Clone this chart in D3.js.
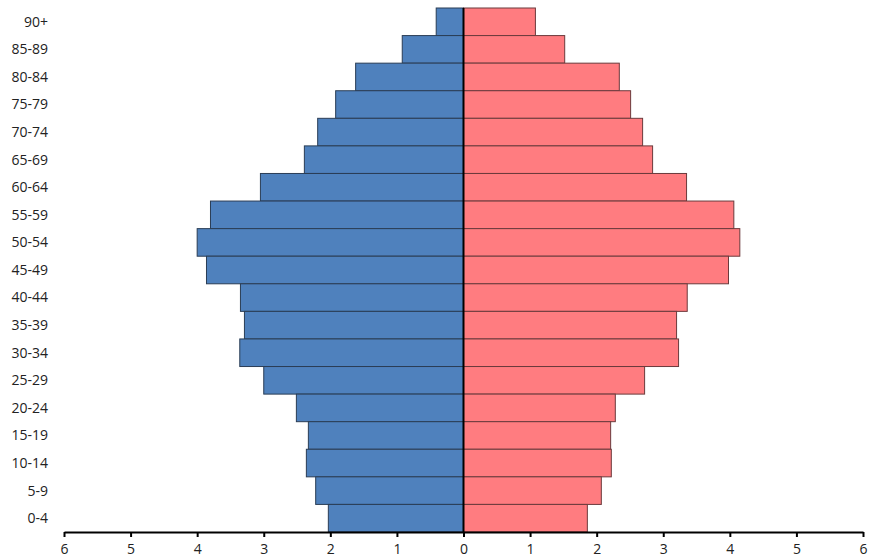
<!DOCTYPE html>
<html>
<head>
<meta charset="utf-8">
<script src="https://cdn.jsdelivr.net/npm/d3@7"></script>
<style>
  body { margin: 0; background: #fff; }
  text { font-family: "Open Sans", "Liberation Sans", sans-serif; }
</style>
</head>
<body>
<svg id="chart"></svg>
<script>
const ageGroups = ['90+', '85-89', '80-84', '75-79', '70-74', '65-69', '60-64', '55-59', '50-54',
  '45-49', '40-44', '35-39', '30-34', '25-29', '20-24', '15-19', '10-14', '5-9', '0-4'];
const male = [0.41, 0.92, 1.62, 1.92, 2.19, 2.39, 3.05, 3.80, 4.00,
  3.86, 3.35, 3.29, 3.36, 3.00, 2.51, 2.33, 2.36, 2.22, 2.03];
const female = [1.08, 1.52, 2.34, 2.51, 2.69, 2.84, 3.35, 4.06, 4.15,
  3.98, 3.36, 3.20, 3.23, 2.72, 2.28, 2.21, 2.22, 2.07, 1.86];
const xTicks = [-6, -5, -4, -3, -2, -1, 0, 1, 2, 3, 4, 5, 6];

const margin = {top: 8, bottom: 28, left: 64, right: 6};
const width = 869 - margin.left - margin.right;
const height = 560 - margin.top - margin.bottom;

const svg = d3.select('#chart')
  .attr('width', 869)
  .attr('height', 560)
  .append('g')
  .attr('transform', `translate(${margin.left}, ${margin.top})`);

const x = d3.scaleLinear()
  .domain([-6, 6])
  .range([0, width]);

const y = d3.scaleBand()
  .domain(ageGroups)
  .range([0, height])
  .padding(0);

// male bars (left)
svg.selectAll('.male')
  .data(ageGroups)
  .enter()
  .append('rect')
  .attr('class', 'male')
  .attr('x', (d, i) => x(-male[i]))
  .attr('y', d => y(d))
  .attr('width', (d, i) => x(0) - x(-male[i]))
  .attr('height', y.bandwidth())
  .attr('fill', '#4F81BD')
  .attr('stroke', '#2a3d55')
  .attr('stroke-width', 1);

// female bars (right)
svg.selectAll('.female')
  .data(ageGroups)
  .enter()
  .append('rect')
  .attr('class', 'female')
  .attr('x', x(0))
  .attr('y', d => y(d))
  .attr('width', (d, i) => x(female[i]) - x(0))
  .attr('height', y.bandwidth())
  .attr('fill', '#FF7C80')
  .attr('stroke', '#6b3a3c')
  .attr('stroke-width', 1);

// center line
svg.append('line')
  .attr('x1', x(0))
  .attr('x2', x(0))
  .attr('y1', 0)
  .attr('y2', height)
  .attr('stroke', '#000')
  .attr('stroke-width', 2);

// category labels
svg.selectAll('.age')
  .data(ageGroups)
  .enter()
  .append('text')
  .attr('class', 'age')
  .attr('x', -16)
  .attr('y', d => y(d) + y.bandwidth() / 2)
  .attr('dy', '0.35em')
  .attr('text-anchor', 'end')
  .style('font-size', '14px')
  .attr('fill', '#222')
  .text(d => d);

// x axis
const xAxis = svg.append('g')
  .attr('transform', `translate(0, ${height})`)
  .call(d3.axisBottom(x)
    .tickValues(xTicks)
    .tickSize(5)
    .tickSizeOuter(0)
    .tickFormat(d => Math.abs(d)));

xAxis.select('.domain')
  .attr('stroke', '#000')
  .attr('stroke-width', 2);
xAxis.selectAll('.tick line')
  .attr('stroke', '#000')
  .attr('stroke-width', 2);
xAxis.selectAll('.tick text')
  .attr('y', 12)
  .style('font-size', '14px')
  .style('font-family', '"Open Sans", "Liberation Sans", sans-serif')
  .attr('fill', '#222');
</script>
</body>
</html>
